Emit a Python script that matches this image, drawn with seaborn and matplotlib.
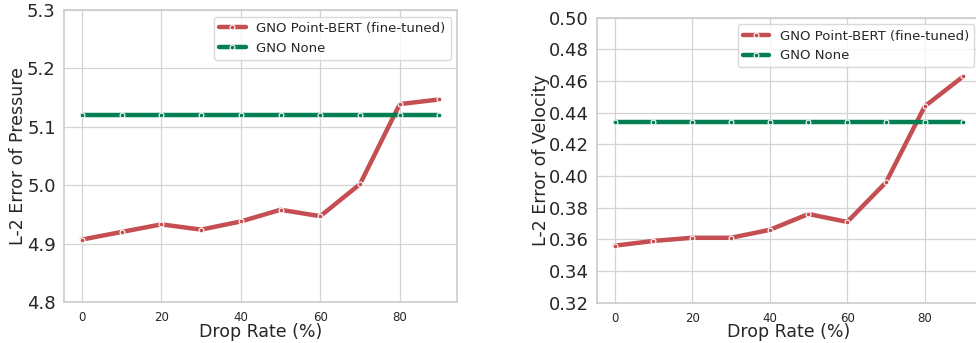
import matplotlib
matplotlib.use("Agg")
import matplotlib.pyplot as plt
import seaborn as sns
import pandas as pd

drop_rate = [0, 10, 20, 30, 40, 50, 60, 70, 80, 90]
pressure_bert = [4.907, 4.920, 4.933, 4.924, 4.938, 4.958, 4.947, 5.002, 5.139, 5.147]
pressure_none = [5.121] * 10
velocity_bert = [0.356, 0.359, 0.361, 0.361, 0.366, 0.376, 0.371, 0.396, 0.444, 0.463]
velocity_none = [0.434] * 10
series_names = ["GNO Point-BERT (fine-tuned)", "GNO None"]
pressure_yticks = [4.8, 4.9, 5.0, 5.1, 5.2, 5.3]
velocity_yticks = [0.32, 0.34, 0.36, 0.38, 0.40, 0.42, 0.44, 0.46, 0.48, 0.50]

sns.set_theme(style="whitegrid")
plt.rcParams['font.family'] = ['DejaVu Sans']

red = "#C44E52"
green = "#037F51"

fig = plt.figure(figsize=(9.76, 3.43), dpi=100)
ax1 = fig.add_axes([0.0656, 0.1195, 0.403, 0.851])
ax2 = fig.add_axes([0.612, 0.1175, 0.393, 0.831])


def draw(ax, bert, none, yticks, ylabel, fmt, ylabelpad):
    df = pd.DataFrame({
        "Drop Rate": drop_rate * 2,
        "Error": list(bert) + list(none),
        "Model": [series_names[0]] * len(drop_rate) + [series_names[1]] * len(drop_rate),
    })
    sns.lineplot(data=df, x="Drop Rate", y="Error", hue="Model",
                 palette=[red, green], marker="o", markersize=3.5,
                 markeredgecolor="white", markeredgewidth=0.8,
                 linewidth=3.2, ax=ax)
    ax.set_ylim(yticks[0], yticks[-1])
    ax.set_yticks(yticks)
    ax.set_yticklabels([fmt.format(v) for v in yticks], fontsize=13)
    ax.set_xticks([0, 20, 40, 60, 80])
    ax.tick_params(axis="x", labelsize=8.5, length=0, pad=6.5)
    ax.tick_params(axis="y", length=0, pad=6)
    ax.set_xlabel("Drop Rate (%)", fontsize=12.5, labelpad=-1)
    ax.set_ylabel(ylabel, fontsize=12.5, labelpad=ylabelpad)
    for s in ax.spines.values():
        s.set_visible(True)
        s.set_color("#cccccc")
        s.set_linewidth(1.2)
    ax.grid(color="#d4d4d4", linewidth=0.9)
    leg = ax.legend(loc="upper right", fontsize=9.5, handlelength=2.0,
                    frameon=True, borderpad=0.4, labelspacing=0.5)
    leg.get_frame().set_edgecolor("#d0d0d0")
    for line in leg.get_lines():
        line.set_linewidth(3.2)


draw(ax1, pressure_bert, pressure_none, pressure_yticks, "L-2 Error of Pressure", "{:.1f}", 0)
draw(ax2, velocity_bert, velocity_none, velocity_yticks, "L-2 Error of Velocity", "{:.2f}", -1)

fig.savefig("out.png", dpi=100)
